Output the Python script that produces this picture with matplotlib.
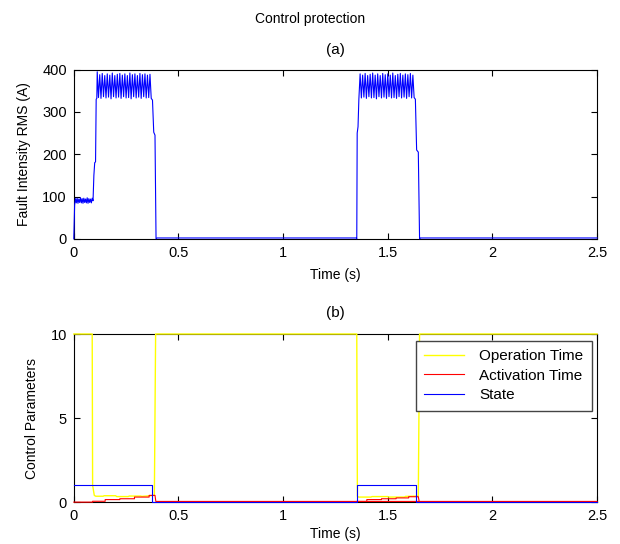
import matplotlib
matplotlib.use('Agg')
import matplotlib.pyplot as plt

plt.rcParams['font.family'] = ['Liberation Sans', 'DejaVu Sans']

# (a) fault current, first fault
t_on1 = [0, 0.002, 0.004, 0.008, 0.012, 0.016, 0.020, 0.024, 0.028, 0.032, 0.036, 0.040,
         0.044, 0.048, 0.052, 0.056, 0.060, 0.064, 0.068, 0.072, 0.076, 0.080, 0.084,
         0.088, 0.092, 0.096, 0.100, 0.104, 0.107, 0.110]
i_on1 = [0, 45, 80, 95, 85, 96, 84, 94, 86, 97, 85, 95,
         84, 96, 86, 94, 85, 97, 84, 95, 86, 94, 85,
         96, 90, 150, 180, 182, 330, 332]
t_rip1 = [0.112, 0.118, 0.124, 0.130, 0.136, 0.142, 0.148, 0.154, 0.160, 0.166, 0.172, 0.178,
          0.184, 0.190, 0.196, 0.202, 0.208, 0.214, 0.220, 0.226, 0.232, 0.238, 0.244, 0.250,
          0.256, 0.262, 0.268, 0.274, 0.280, 0.286, 0.292, 0.298, 0.304, 0.310, 0.316, 0.322,
          0.328, 0.334, 0.340, 0.346, 0.352, 0.358, 0.364, 0.370]
i_rip1 = [395, 334, 388, 332, 391, 336, 386, 333, 390, 335, 387, 331,
          392, 336, 386, 333, 389, 335, 391, 332, 387, 336, 390, 333,
          386, 334, 392, 331, 388, 336, 390, 333, 386, 335, 391, 332,
          388, 336, 390, 333, 387, 334, 389, 332]
t_off1 = [0.376, 0.382, 0.388, 0.393, 0.398, 1.350]
i_off1 = [328, 252, 245, 0, 2, 2]

# (a) second fault
t_on2 = [1.352, 1.354, 1.358, 1.362]
i_on2 = [0, 250, 265, 330]
t_rip2 = [1.368, 1.374, 1.380, 1.386, 1.392, 1.398, 1.404, 1.410, 1.416, 1.422, 1.428, 1.434,
          1.440, 1.446, 1.452, 1.458, 1.464, 1.470, 1.476, 1.482, 1.488, 1.494, 1.500, 1.506,
          1.512, 1.518, 1.524, 1.530, 1.536, 1.542, 1.548, 1.554, 1.560, 1.566, 1.572, 1.578,
          1.584, 1.590, 1.596, 1.602, 1.608, 1.614, 1.620, 1.626]
i_rip2 = [390, 333, 387, 335, 391, 332, 386, 336, 389, 333, 392, 334,
          387, 331, 390, 336, 386, 333, 391, 335, 388, 332, 390, 336,
          387, 333, 392, 334, 386, 332, 389, 336, 391, 333, 387, 335,
          390, 332, 388, 336, 391, 333, 387, 334]
t_off2 = [1.632, 1.638, 1.646, 1.652, 1.656, 2.5]
i_off2 = [330, 210, 205, 0, 2, 2]

# (b) control parameters
t_op = [0, 0.088, 0.090, 0.098, 0.105, 0.140, 0.145, 0.200, 0.205, 0.260, 0.265, 0.320, 0.325,
        0.385, 0.391, 1.352, 1.355, 1.360, 1.420, 1.425, 1.500, 1.505, 1.580, 1.585, 1.646,
        1.652, 2.5]
op_time = [10, 10, 1.0, 0.4, 0.35, 0.35, 0.38, 0.38, 0.33, 0.33, 0.36, 0.36, 0.34,
           0.4, 10, 10, 0.35, 0.3, 0.3, 0.33, 0.33, 0.3, 0.3, 0.34, 0.36,
           10, 10]
t_act = [0, 0.090, 0.090, 0.150, 0.150, 0.220, 0.220, 0.290, 0.290, 0.360, 0.360, 0.388,
         0.392, 2.5]
act_time = [0, 0, 0.05, 0.05, 0.15, 0.15, 0.2, 0.2, 0.3, 0.3, 0.4, 0.4, 0.04, 0.04]
t_act2 = [1.352, 1.400, 1.400, 1.470, 1.470, 1.540, 1.540, 1.600, 1.600, 1.646, 1.650]
act_time2 = [0.04, 0.04, 0.15, 0.15, 0.2, 0.2, 0.25, 0.25, 0.32, 0.32, 0.04]
t_state = [0, 0.372, 0.372, 1.352, 1.352, 1.635, 1.635, 2.5]
state = [1, 1, 0, 0, 1, 1, 0, 0]

fig = plt.figure(figsize=(6.2, 5.44), dpi=100)
fig.text(0.5, 0.965, 'Control protection', ha='center', va='center', fontsize=10)

ax1 = fig.add_axes([0.119, 0.561, 0.844, 0.311])
ax1.plot(t_on1 + t_rip1 + t_off1 + t_on2 + t_rip2 + t_off2,
         i_on1 + i_rip1 + i_off1 + i_on2 + i_rip2 + i_off2,
         color='blue', lw=0.8, zorder=3, clip_on=False)
ax1.set_xlim(0, 2.5)
ax1.set_ylim(0, 400)
ax1.set_yticks([0, 100, 200, 300, 400])
ax1.set_title('(a)', fontsize=11, pad=11)
ax1.set_ylabel('Fault Intensity RMS (A)', fontsize=10, labelpad=8)
ax1.set_xlabel('Time (s)', fontsize=10, labelpad=6)

ax2 = fig.add_axes([0.119, 0.077, 0.844, 0.309])
l1, = ax2.plot(t_op, op_time, color='yellow', lw=1.0, zorder=3, clip_on=False,
               label='Operation Time')
l2, = ax2.plot(t_act, act_time, color='red', lw=0.8, zorder=3, clip_on=False,
               label='Activation Time')
ax2.plot(t_act2, act_time2, color='red', lw=0.8, zorder=3, clip_on=False)
l3, = ax2.plot(t_state, state, color='blue', lw=0.8, zorder=3, clip_on=False, label='State')
ax2.set_xlim(0, 2.5)
ax2.set_ylim(0, 10)
ax2.set_yticks([0, 5, 10])
ax2.set_title('(b)', fontsize=11, pad=12)
ax2.set_ylabel('Control Parameters', fontsize=10, labelpad=8)
ax2.set_xlabel('Time (s)', fontsize=10, labelpad=3)
leg = ax2.legend(handles=[l1, l2, l3], loc='upper right', bbox_to_anchor=(0.99, 0.958),
                 borderaxespad=0, fontsize=11, fancybox=False, edgecolor='#444444',
                 framealpha=1, handlelength=2.6, borderpad=0.55, labelspacing=0.35,
                 handletextpad=1.0)
leg.get_frame().set_linewidth(1.0)

for ax in (ax1, ax2):
    ax.set_xticks([0, 0.5, 1, 1.5, 2, 2.5])
    ax.set_xticklabels(['0', '0.5', '1', '1.5', '2', '2.5'])
    ax.tick_params(direction='in', top=True, right=True, labelsize=10.5, length=4,
                   width=0.8, pad=5)
    for s in ax.spines.values():
        s.set_linewidth(0.8)

fig.savefig('out.png', dpi=100)
